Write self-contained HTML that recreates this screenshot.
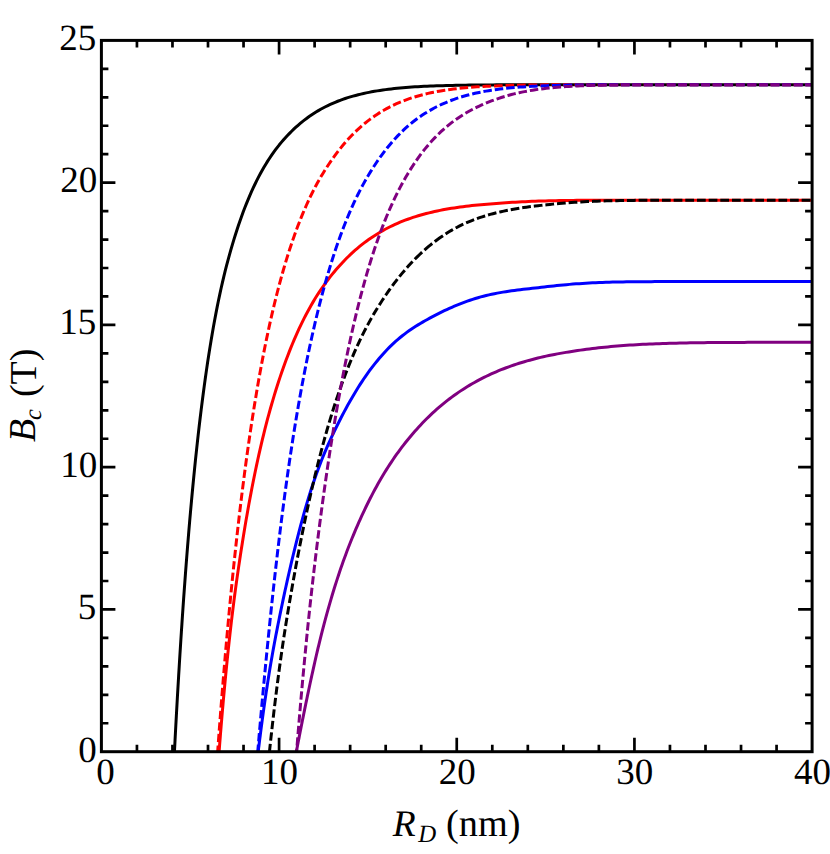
<!DOCTYPE html>
<html><head><meta charset="utf-8"><title>Bc vs RD</title>
<style>html,body{margin:0;padding:0;background:#fff}body{width:830px;height:854px;overflow:hidden;font-family:"Liberation Serif",serif}svg{display:block}text{text-rendering:geometricPrecision}</style></head>
<body>
<svg width="830" height="854" viewBox="0 0 830 854">
<rect width="830" height="854" fill="#fff"/>
<defs><clipPath id="c"><rect x="101.40" y="40.40" width="710.70" height="711.30"/></clipPath></defs>
<g clip-path="url(#c)" fill="none" stroke-width="3.00" stroke-linejoin="round">
<path d="M174.44 751.70 L174.45 751.52 L174.48 750.96 L174.53 750.04 L174.59 748.75 L174.68 747.10 L174.79 745.09 L174.91 742.72 L175.05 740.00 L175.21 736.93 L175.39 733.52 L175.59 729.78 L175.81 725.72 L176.05 721.33 L176.31 716.63 L176.58 711.64 L176.88 706.35 L177.19 700.77 L177.52 694.93 L177.88 688.82 L178.25 682.47 L178.64 675.87 L179.05 669.05 L179.47 662.02 L179.92 654.77 L180.39 647.34 L180.87 639.73 L181.38 631.96 L181.90 624.03 L182.44 615.96 L183.00 607.76 L183.58 599.44 L184.18 591.03 L184.80 582.52 L185.44 573.93 L186.09 565.27 L186.77 556.57 L187.46 547.81 L188.18 539.03 L188.91 530.22 L189.66 521.41 L190.43 512.59 L191.22 503.79 L192.03 495.01 L192.86 486.25 L193.70 477.53 L194.57 468.84 L195.45 460.21 L196.36 451.63 L197.28 443.11 L198.22 434.66 L199.18 426.29 L200.16 418.01 L201.16 409.81 L202.18 401.71 L203.22 393.72 L204.27 385.83 L205.35 378.05 L206.44 370.38 L207.55 362.84 L208.68 355.42 L209.84 348.12 L211.01 340.96 L212.19 333.92 L213.40 327.02 L214.63 320.26 L215.88 313.63 L217.14 307.14 L218.42 300.79 L219.73 294.58 L221.05 288.51 L222.39 282.59 L223.75 276.80 L225.13 271.15 L226.53 265.65 L227.95 260.28 L229.38 255.02 L230.84 249.86 L232.31 244.80 L233.80 239.83 L235.32 234.96 L236.85 230.19 L238.40 225.51 L239.97 220.94 L241.56 216.47 L243.16 212.09 L244.79 207.82 L246.44 203.64 L248.10 199.57 L249.78 195.59 L251.49 191.72 L253.21 187.94 L254.95 184.26 L256.71 180.67 L258.49 177.18 L260.29 173.79 L262.10 170.49 L263.94 167.28 L265.79 164.17 L267.67 161.14 L269.56 158.21 L271.47 155.36 L273.40 152.60 L275.35 149.93 L277.32 147.33 L279.31 144.82 L281.32 142.40 L283.34 140.04 L285.39 137.74 L287.45 135.51 L289.53 133.34 L291.64 131.23 L293.76 129.18 L295.90 127.20 L298.06 125.28 L300.23 123.42 L302.43 121.61 L304.65 119.87 L306.88 118.19 L309.14 116.56 L311.41 115.00 L313.70 113.49 L316.01 112.03 L318.34 110.63 L320.69 109.28 L323.06 107.99 L325.45 106.74 L327.86 105.55 L330.28 104.41 L332.73 103.31 L335.19 102.26 L337.67 101.26 L340.17 100.30 L342.69 99.39 L345.23 98.52 L347.79 97.69 L350.37 96.90 L352.97 96.14 L355.58 95.43 L358.22 94.75 L360.87 94.10 L363.54 93.49 L366.24 92.90 L368.95 92.35 L371.68 91.83 L374.43 91.34 L377.19 90.87 L379.98 90.43 L382.79 90.02 L385.61 89.63 L388.45 89.27 L391.32 88.92 L394.20 88.60 L397.10 88.30 L400.02 88.02 L402.96 87.75 L405.92 87.51 L408.90 87.28 L411.89 87.07 L414.91 86.87 L417.94 86.69 L420.99 86.51 L424.07 86.36 L427.16 86.21 L430.27 86.08 L433.40 85.95 L436.55 85.84 L439.71 85.73 L442.90 85.63 L446.10 85.55 L449.33 85.46 L452.57 85.39 L455.84 85.32 L459.12 85.26 L462.42 85.20 L465.74 85.15 L469.08 85.11 L472.43 85.06 L475.81 85.03 L479.21 84.99 L482.62 84.96 L486.05 84.93 L489.51 84.91 L492.98 84.88 L496.47 84.86 L499.98 84.85 L503.51 84.83 L507.06 84.81 L510.62 84.80 L514.21 84.79 L517.81 84.78 L521.44 84.77 L525.08 84.76 L528.74 84.75 L532.42 84.75 L536.12 84.74 L539.84 84.74 L543.58 84.73 L547.34 84.73 L551.11 84.72 L554.91 84.72 L558.72 84.72 L562.56 84.72 L566.41 84.71 L570.28 84.71 L574.17 84.71 L578.08 84.71 L582.01 84.71 L585.95 84.71 L589.92 84.71 L593.91 84.70 L597.91 84.70 L601.93 84.70 L605.98 84.70 L610.04 84.70 L614.12 84.70 L618.22 84.70 L622.34 84.70 L626.47 84.70 L630.63 84.70 L634.81 84.70 L639.00 84.70 L643.21 84.70 L647.45 84.70 L651.70 84.70 L655.97 84.70 L660.26 84.70 L664.57 84.70 L668.90 84.70 L673.24 84.70 L677.61 84.70 L681.99 84.70 L686.40 84.70 L690.82 84.70 L695.26 84.70 L699.72 84.70 L704.20 84.70 L708.70 84.70 L713.22 84.70 L717.76 84.70 L722.31 84.70 L726.89 84.70 L731.48 84.70 L736.10 84.70 L740.73 84.70 L745.38 84.70 L750.05 84.70 L754.74 84.70 L759.45 84.70 L764.17 84.70 L768.92 84.70 L773.69 84.70 L778.47 84.70 L783.27 84.70 L788.10 84.70 L792.94 84.70 L797.80 84.70 L802.68 84.70 L807.58 84.70 L812.49 84.70 L817.43 84.70" stroke="#000000"/>
<path d="M219.10 751.70 L219.11 751.58 L219.13 751.24 L219.18 750.67 L219.24 749.86 L219.32 748.83 L219.42 747.58 L219.53 746.10 L219.66 744.40 L219.82 742.49 L219.98 740.36 L220.17 738.03 L220.37 735.49 L220.59 732.75 L220.83 729.81 L221.09 726.68 L221.36 723.37 L221.66 719.88 L221.97 716.22 L222.29 712.39 L222.64 708.40 L223.00 704.26 L223.38 699.97 L223.78 695.55 L224.20 690.99 L224.63 686.31 L225.08 681.51 L225.55 676.60 L226.04 671.59 L226.54 666.48 L227.06 661.29 L227.60 656.03 L228.16 650.69 L228.74 645.28 L229.33 639.82 L229.94 634.32 L230.57 628.77 L231.22 623.19 L231.88 617.58 L232.56 611.95 L233.26 606.31 L233.98 600.66 L234.71 595.02 L235.46 589.38 L236.23 583.76 L237.02 578.15 L237.83 572.53 L238.65 566.89 L239.49 561.23 L240.35 555.54 L241.23 549.85 L242.12 544.15 L243.03 538.44 L243.96 532.74 L244.91 527.03 L245.87 521.34 L246.86 515.65 L247.86 509.99 L248.87 504.34 L249.91 498.71 L250.96 493.11 L252.03 487.54 L253.12 482.00 L254.23 476.49 L255.35 471.02 L256.49 465.60 L257.65 460.21 L258.83 454.88 L260.03 449.59 L261.24 444.35 L262.47 439.16 L263.72 434.03 L264.98 428.96 L266.27 423.94 L267.57 418.99 L268.89 414.09 L270.22 409.26 L271.58 404.50 L272.95 399.80 L274.34 395.15 L275.75 390.56 L277.17 386.03 L278.61 381.55 L280.07 377.13 L281.55 372.77 L283.05 368.47 L284.56 364.23 L286.09 360.05 L287.64 355.93 L289.21 351.88 L290.79 347.90 L292.39 343.98 L294.01 340.12 L295.65 336.33 L297.31 332.61 L298.98 328.95 L300.67 325.36 L302.38 321.84 L304.10 318.39 L305.85 315.00 L307.61 311.68 L309.39 308.42 L311.18 305.24 L313.00 302.12 L314.83 299.06 L316.68 296.07 L318.55 293.15 L320.43 290.30 L322.34 287.50 L324.26 284.78 L326.20 282.11 L328.15 279.50 L330.13 276.94 L332.12 274.43 L334.13 271.98 L336.15 269.57 L338.20 267.21 L340.26 264.91 L342.34 262.66 L344.44 260.46 L346.55 258.31 L348.69 256.21 L350.84 254.16 L353.01 252.16 L355.19 250.21 L357.40 248.32 L359.62 246.47 L361.86 244.67 L364.11 242.92 L366.39 241.22 L368.68 239.57 L370.99 237.97 L373.32 236.41 L375.66 234.90 L378.03 233.44 L380.41 232.02 L382.81 230.64 L385.22 229.31 L387.66 228.03 L390.11 226.78 L392.58 225.58 L395.07 224.42 L397.57 223.30 L400.09 222.22 L402.63 221.18 L405.19 220.18 L407.77 219.23 L410.36 218.31 L412.97 217.42 L415.60 216.57 L418.25 215.76 L420.91 214.98 L423.59 214.24 L426.29 213.52 L429.01 212.84 L431.75 212.18 L434.50 211.56 L437.27 210.96 L440.06 210.39 L442.86 209.84 L445.69 209.32 L448.53 208.82 L451.39 208.35 L454.26 207.90 L457.16 207.47 L460.07 207.06 L463.00 206.67 L465.95 206.30 L468.91 205.94 L471.89 205.61 L474.89 205.29 L477.91 204.99 L480.95 204.70 L484.00 204.43 L487.07 204.17 L490.16 203.92 L493.27 203.67 L496.39 203.43 L499.54 203.20 L502.70 202.97 L505.87 202.76 L509.07 202.55 L512.28 202.35 L515.51 202.16 L518.76 201.98 L522.03 201.81 L525.31 201.65 L528.61 201.50 L531.93 201.37 L535.27 201.24 L538.62 201.12 L541.99 201.01 L545.38 200.92 L548.79 200.83 L552.22 200.74 L555.66 200.67 L559.12 200.60 L562.60 200.55 L566.10 200.49 L569.61 200.45 L573.14 200.40 L576.69 200.37 L580.26 200.34 L583.84 200.31 L587.44 200.29 L591.06 200.26 L594.70 200.25 L598.36 200.23 L602.03 200.22 L605.72 200.21 L609.43 200.20 L613.16 200.19 L616.90 200.19 L620.66 200.18 L624.44 200.18 L628.24 200.17 L632.05 200.17 L635.89 200.17 L639.74 200.17 L643.60 200.16 L647.49 200.16 L651.39 200.16 L655.31 200.16 L659.25 200.16 L663.21 200.16 L667.18 200.16 L671.18 200.16 L675.18 200.16 L679.21 200.16 L683.26 200.16 L687.32 200.16 L691.40 200.16 L695.50 200.16 L699.61 200.16 L703.75 200.16 L707.90 200.16 L712.07 200.16 L716.25 200.16 L720.46 200.16 L724.68 200.16 L728.92 200.16 L733.18 200.16 L737.45 200.16 L741.74 200.16 L746.06 200.16 L750.38 200.16 L754.73 200.16 L759.09 200.16 L763.47 200.16 L767.87 200.16 L772.29 200.16 L776.72 200.16 L781.18 200.16 L785.65 200.16 L790.13 200.16 L794.64 200.16 L799.16 200.16 L803.70 200.16 L808.26 200.16 L812.84 200.16 L817.43 200.16" stroke="#ff0000"/>
<path d="M258.20 751.70 L258.20 751.63 L258.23 751.43 L258.27 751.09 L258.33 750.61 L258.40 750.00 L258.49 749.25 L258.60 748.37 L258.73 747.36 L258.87 746.22 L259.02 744.95 L259.20 743.55 L259.39 742.03 L259.59 740.38 L259.82 738.61 L260.06 736.72 L260.31 734.72 L260.59 732.60 L260.88 730.37 L261.18 728.03 L261.51 725.59 L261.84 723.04 L262.20 720.39 L262.57 717.65 L262.96 714.81 L263.37 711.88 L263.79 708.87 L264.23 705.78 L264.68 702.60 L265.15 699.35 L265.64 696.03 L266.15 692.65 L266.67 689.19 L267.21 685.68 L267.76 682.12 L268.33 678.50 L268.92 674.83 L269.52 671.11 L270.14 667.36 L270.78 663.57 L271.43 659.74 L272.10 655.89 L272.79 652.01 L273.49 648.11 L274.21 644.19 L274.95 640.26 L275.70 636.31 L276.47 632.35 L277.26 628.34 L278.06 624.29 L278.88 620.20 L279.71 616.07 L280.57 611.89 L281.43 607.69 L282.32 603.45 L283.22 599.18 L284.14 594.88 L285.07 590.55 L286.03 586.20 L286.99 581.83 L287.98 577.43 L288.98 573.02 L290.00 568.60 L291.03 564.16 L292.08 559.71 L293.15 555.25 L294.23 550.78 L295.33 546.31 L296.45 541.84 L297.58 537.37 L298.73 532.90 L299.90 528.43 L301.08 523.98 L302.28 519.53 L303.50 515.09 L304.73 510.71 L305.98 506.37 L307.25 502.09 L308.53 497.85 L309.83 493.67 L311.14 489.54 L312.47 485.47 L313.82 481.45 L315.19 477.49 L316.57 473.58 L317.97 469.74 L319.38 465.95 L320.81 462.21 L322.26 458.54 L323.72 454.93 L325.21 451.37 L326.70 447.88 L328.22 444.44 L329.75 441.07 L331.29 437.71 L332.86 434.38 L334.44 431.06 L336.03 427.77 L337.65 424.49 L339.28 421.24 L340.92 418.00 L342.59 414.80 L344.27 411.62 L345.96 408.46 L347.67 405.34 L349.40 402.24 L351.15 399.18 L352.91 396.15 L354.69 393.15 L356.48 390.18 L358.30 387.26 L360.12 384.39 L361.97 381.56 L363.83 378.78 L365.71 376.05 L367.60 373.37 L369.51 370.74 L371.44 368.15 L373.39 365.61 L375.35 363.13 L377.32 360.69 L379.32 358.29 L381.33 355.95 L383.35 353.66 L385.40 351.43 L387.46 349.26 L389.53 347.16 L391.63 345.11 L393.74 343.13 L395.86 341.20 L398.00 339.34 L400.16 337.52 L402.34 335.76 L404.53 334.06 L406.74 332.41 L408.97 330.80 L411.21 329.25 L413.47 327.75 L415.74 326.29 L418.03 324.87 L420.34 323.49 L422.67 322.13 L425.01 320.78 L427.36 319.45 L429.74 318.13 L432.13 316.84 L434.54 315.57 L436.96 314.31 L439.40 313.08 L441.86 311.88 L444.33 310.69 L446.82 309.53 L449.33 308.40 L451.85 307.29 L454.39 306.20 L456.95 305.14 L459.52 304.11 L462.11 303.10 L464.72 302.12 L467.34 301.17 L469.98 300.25 L472.63 299.35 L475.30 298.50 L477.99 297.69 L480.70 296.93 L483.42 296.21 L486.16 295.53 L488.91 294.88 L491.68 294.27 L494.47 293.69 L497.28 293.14 L500.10 292.62 L502.94 292.12 L505.79 291.66 L508.66 291.22 L511.55 290.80 L514.45 290.40 L517.37 290.02 L520.31 289.67 L523.26 289.33 L526.23 289.01 L529.22 288.67 L532.22 288.33 L535.24 287.99 L538.28 287.64 L541.33 287.29 L544.40 286.94 L547.48 286.59 L550.59 286.24 L553.71 285.91 L556.84 285.58 L559.99 285.26 L563.16 284.96 L566.35 284.66 L569.55 284.38 L572.77 284.12 L576.00 283.87 L579.25 283.63 L582.52 283.41 L585.80 283.21 L589.10 283.02 L592.42 282.85 L595.76 282.70 L599.11 282.55 L602.47 282.42 L605.86 282.31 L609.26 282.21 L612.67 282.11 L616.11 282.03 L619.56 281.96 L623.02 281.90 L626.50 281.85 L630.00 281.80 L633.52 281.76 L637.05 281.72 L640.60 281.70 L644.17 281.67 L647.75 281.65 L651.35 281.63 L654.96 281.62 L658.59 281.61 L662.24 281.60 L665.91 281.59 L669.59 281.58 L673.29 281.58 L677.00 281.57 L680.73 281.57 L684.48 281.57 L688.24 281.57 L692.02 281.57 L695.82 281.56 L699.64 281.56 L703.47 281.56 L707.31 281.56 L711.18 281.56 L715.06 281.56 L718.95 281.56 L722.87 281.56 L726.79 281.56 L730.74 281.56 L734.70 281.56 L738.68 281.56 L742.68 281.56 L746.69 281.56 L750.72 281.56 L754.76 281.56 L758.83 281.56 L762.90 281.56 L767.00 281.56 L771.11 281.56 L775.24 281.56 L779.38 281.56 L783.55 281.56 L787.72 281.56 L791.92 281.56 L796.13 281.56 L800.36 281.56 L804.60 281.56 L808.86 281.56 L813.14 281.56 L817.43 281.56" stroke="#0000ff"/>
<path d="M296.37 751.70 L296.38 751.66 L296.40 751.54 L296.44 751.33 L296.49 751.05 L296.56 750.68 L296.65 750.23 L296.75 749.70 L296.86 749.09 L296.99 748.40 L297.14 747.63 L297.30 746.78 L297.48 745.85 L297.67 744.84 L297.88 743.75 L298.10 742.58 L298.34 741.33 L298.60 740.01 L298.87 738.61 L299.15 737.14 L299.45 735.58 L299.77 733.96 L300.10 732.26 L300.45 730.49 L300.81 728.64 L301.19 726.72 L301.58 724.73 L301.99 722.67 L302.41 720.54 L302.85 718.35 L303.31 716.08 L303.78 713.75 L304.26 711.35 L304.76 708.89 L305.28 706.37 L305.81 703.78 L306.36 701.14 L306.92 698.43 L307.50 695.66 L308.09 692.84 L308.70 689.96 L309.33 687.02 L309.97 684.04 L310.62 681.00 L311.29 677.90 L311.98 674.76 L312.68 671.57 L313.40 668.34 L314.13 665.06 L314.88 661.74 L315.64 658.39 L316.42 655.02 L317.21 651.63 L318.02 648.22 L318.85 644.79 L319.69 641.34 L320.54 637.88 L321.41 634.40 L322.30 630.91 L323.20 627.41 L324.12 623.91 L325.05 620.40 L326.00 616.88 L326.96 613.36 L327.94 609.84 L328.94 606.32 L329.95 602.81 L330.97 599.30 L332.01 595.79 L333.07 592.29 L334.14 588.80 L335.23 585.32 L336.33 581.85 L337.45 578.39 L338.58 574.94 L339.73 571.52 L340.89 568.10 L342.07 564.71 L343.26 561.33 L344.47 557.98 L345.70 554.65 L346.94 551.33 L348.20 548.04 L349.47 544.78 L350.76 541.54 L352.06 538.31 L353.38 535.09 L354.71 531.89 L356.06 528.71 L357.42 525.55 L358.80 522.40 L360.20 519.28 L361.61 516.17 L363.04 513.09 L364.48 510.03 L365.93 506.99 L367.41 503.98 L368.89 500.99 L370.40 498.02 L371.92 495.09 L373.45 492.17 L375.00 489.29 L376.56 486.43 L378.14 483.60 L379.74 480.80 L381.35 478.03 L382.98 475.29 L384.62 472.58 L386.28 469.90 L387.95 467.25 L389.64 464.63 L391.34 462.05 L393.06 459.49 L394.79 456.97 L396.54 454.48 L398.31 452.02 L400.09 449.60 L401.88 447.21 L403.70 444.85 L405.52 442.52 L407.36 440.22 L409.22 437.95 L411.10 435.70 L412.98 433.48 L414.89 431.30 L416.81 429.14 L418.74 427.01 L420.69 424.91 L422.66 422.84 L424.64 420.80 L426.63 418.79 L428.65 416.81 L430.67 414.86 L432.72 412.95 L434.77 411.06 L436.85 409.21 L438.94 407.38 L441.04 405.59 L443.16 403.83 L445.30 402.10 L447.45 400.40 L449.61 398.74 L451.79 397.10 L453.99 395.50 L456.20 393.93 L458.43 392.38 L460.67 390.87 L462.93 389.39 L465.21 387.95 L467.49 386.53 L469.80 385.14 L472.12 383.78 L474.46 382.46 L476.81 381.16 L479.17 379.89 L481.55 378.65 L483.95 377.44 L486.36 376.25 L488.79 375.09 L491.24 373.97 L493.69 372.86 L496.17 371.79 L498.66 370.74 L501.16 369.72 L503.68 368.73 L506.22 367.76 L508.77 366.82 L511.34 365.90 L513.92 365.01 L516.52 364.15 L519.13 363.30 L521.76 362.49 L524.40 361.69 L527.06 360.92 L529.74 360.18 L532.43 359.45 L535.13 358.75 L537.85 358.07 L540.59 357.41 L543.34 356.78 L546.11 356.16 L548.89 355.56 L551.69 354.99 L554.50 354.43 L557.33 353.90 L560.18 353.38 L563.04 352.88 L565.91 352.39 L568.80 351.92 L571.71 351.46 L574.63 351.01 L577.56 350.57 L580.52 350.14 L583.48 349.73 L586.47 349.33 L589.47 348.94 L592.48 348.57 L595.51 348.21 L598.55 347.86 L601.61 347.53 L604.69 347.21 L607.78 346.90 L610.89 346.61 L614.01 346.33 L617.15 346.06 L620.30 345.81 L623.47 345.57 L626.65 345.34 L629.85 345.12 L633.06 344.91 L636.29 344.72 L639.54 344.54 L642.80 344.36 L646.07 344.20 L649.36 344.05 L652.67 343.90 L655.99 343.77 L659.33 343.64 L662.68 343.53 L666.05 343.42 L669.44 343.32 L672.84 343.23 L676.25 343.14 L679.68 343.06 L683.13 342.99 L686.59 342.92 L690.06 342.86 L693.55 342.80 L697.06 342.75 L700.58 342.70 L704.12 342.66 L707.68 342.62 L711.24 342.58 L714.83 342.55 L718.43 342.52 L722.04 342.50 L725.67 342.47 L729.32 342.45 L732.98 342.43 L736.66 342.42 L740.35 342.40 L744.06 342.39 L747.78 342.37 L751.52 342.36 L755.27 342.35 L759.04 342.34 L762.83 342.34 L766.63 342.33 L770.44 342.32 L774.27 342.32 L778.12 342.31 L781.98 342.31 L785.86 342.30 L789.75 342.30 L793.66 342.30 L797.58 342.30 L801.52 342.29 L805.48 342.29 L809.44 342.29 L813.43 342.29 L817.43 342.29" stroke="#800080"/>
<path d="M269.47 751.70 L269.47 751.62 L269.50 751.39 L269.54 751.01 L269.60 750.47 L269.67 749.78 L269.76 748.94 L269.86 747.95 L269.98 746.81 L270.12 745.52 L270.28 744.08 L270.45 742.50 L270.63 740.78 L270.84 738.92 L271.05 736.92 L271.29 734.78 L271.54 732.52 L271.81 730.12 L272.09 727.59 L272.39 724.94 L272.71 722.16 L273.04 719.27 L273.39 716.27 L273.75 713.15 L274.13 709.92 L274.53 706.59 L274.95 703.16 L275.37 699.64 L275.82 696.02 L276.28 692.31 L276.76 688.52 L277.26 684.64 L277.77 680.69 L278.29 676.67 L278.84 672.58 L279.40 668.42 L279.97 664.21 L280.56 659.94 L281.17 655.61 L281.79 651.24 L282.44 646.83 L283.09 642.38 L283.76 637.89 L284.45 633.37 L285.16 628.82 L285.88 624.25 L286.62 619.66 L287.37 615.06 L288.14 610.42 L288.93 605.73 L289.73 600.99 L290.55 596.21 L291.38 591.39 L292.24 586.54 L293.10 581.65 L293.99 576.73 L294.89 571.77 L295.80 566.80 L296.73 561.79 L297.68 556.77 L298.65 551.72 L299.63 546.66 L300.62 541.59 L301.64 536.50 L302.67 531.41 L303.71 526.31 L304.78 521.20 L305.85 516.09 L306.95 510.99 L308.06 505.88 L309.18 500.78 L310.33 495.69 L311.49 490.61 L312.66 485.55 L313.85 480.49 L315.06 475.46 L316.29 470.44 L317.53 465.44 L318.78 460.46 L320.05 455.51 L321.34 450.59 L322.65 445.70 L323.97 440.83 L325.31 436.01 L326.66 431.23 L328.03 426.50 L329.42 421.81 L330.82 417.16 L332.24 412.56 L333.67 408.01 L335.12 403.51 L336.59 399.06 L338.07 394.67 L339.57 390.32 L341.09 386.03 L342.62 381.79 L344.17 377.61 L345.73 373.48 L347.32 369.42 L348.91 365.40 L350.53 361.45 L352.15 357.55 L353.80 353.71 L355.46 349.93 L357.14 346.22 L358.83 342.56 L360.54 338.95 L362.27 335.41 L364.01 331.93 L365.77 328.51 L367.55 325.15 L369.34 321.85 L371.15 318.62 L372.97 315.44 L374.81 312.32 L376.67 309.26 L378.54 306.24 L380.43 303.25 L382.33 300.31 L384.25 297.40 L386.19 294.53 L388.15 291.71 L390.11 288.92 L392.10 286.18 L394.10 283.48 L396.12 280.83 L398.16 278.22 L400.21 275.65 L402.27 273.14 L404.36 270.67 L406.46 268.24 L408.57 265.87 L410.70 263.54 L412.85 261.26 L415.02 259.03 L417.20 256.86 L419.39 254.73 L421.61 252.65 L423.84 250.62 L426.08 248.64 L428.34 246.71 L430.62 244.83 L432.91 243.00 L435.22 241.22 L437.55 239.49 L439.89 237.80 L442.25 236.17 L444.63 234.59 L447.02 233.05 L449.43 231.57 L451.85 230.14 L454.29 228.77 L456.75 227.45 L459.22 226.18 L461.71 224.96 L464.21 223.79 L466.73 222.67 L469.27 221.59 L471.82 220.55 L474.39 219.56 L476.98 218.61 L479.58 217.70 L482.20 216.83 L484.83 216.00 L487.48 215.20 L490.15 214.43 L492.83 213.70 L495.53 213.01 L498.25 212.34 L500.98 211.70 L503.73 211.10 L506.49 210.52 L509.27 209.97 L512.07 209.44 L514.88 208.94 L517.71 208.46 L520.56 208.00 L523.42 207.57 L526.30 207.16 L529.19 206.77 L532.10 206.40 L535.03 206.04 L537.97 205.70 L540.93 205.37 L543.90 205.04 L546.89 204.73 L549.90 204.42 L552.92 204.12 L555.96 203.83 L559.02 203.55 L562.09 203.28 L565.18 203.03 L568.28 202.78 L571.41 202.55 L574.54 202.34 L577.70 202.14 L580.87 201.95 L584.05 201.77 L587.25 201.61 L590.47 201.45 L593.70 201.31 L596.96 201.19 L600.22 201.07 L603.51 200.96 L606.80 200.86 L610.12 200.78 L613.45 200.70 L616.80 200.63 L620.16 200.57 L623.54 200.51 L626.94 200.46 L630.35 200.42 L633.78 200.38 L637.23 200.35 L640.69 200.32 L644.16 200.29 L647.66 200.27 L651.17 200.25 L654.69 200.24 L658.24 200.22 L661.80 200.21 L665.37 200.20 L668.96 200.19 L672.57 200.19 L676.19 200.18 L679.83 200.18 L683.49 200.17 L687.16 200.17 L690.85 200.17 L694.55 200.17 L698.27 200.16 L702.01 200.16 L705.76 200.16 L709.53 200.16 L713.32 200.16 L717.12 200.16 L720.94 200.16 L724.77 200.16 L728.62 200.16 L732.49 200.16 L736.37 200.16 L740.27 200.16 L744.18 200.16 L748.12 200.16 L752.06 200.16 L756.03 200.16 L760.01 200.16 L764.00 200.16 L768.02 200.16 L772.04 200.16 L776.09 200.16 L780.15 200.16 L784.23 200.16 L788.32 200.16 L792.43 200.16 L796.56 200.16 L800.70 200.16 L804.86 200.16 L809.03 200.16 L813.22 200.16 L817.43 200.16" stroke="#000000" stroke-dasharray="7.84 3.30 8.27 3.30 8.27 3.30 8.27 3.30 8.27 3.30 8.27 3.30 8.27 3.30 8.27 3.30 8.27 3.30 8.27 3.30 8.27 3.30 8.28 3.29 8.28 3.29 8.28 3.29 8.25 3.29 8.25 3.29 8.26 3.29 8.26 3.29 8.26 3.29 8.26 3.29 8.26 3.29 8.26 3.29 8.26 3.29 8.26 3.29 8.26 3.29 8.26 3.29 8.26 3.29 8.26 3.28 8.36 3.28 8.36 3.28 8.37 3.28 8.37 3.28 8.37 3.27 8.37 3.27 8.38 3.27 8.38 3.26 8.39 3.26 8.39 3.25 8.40 3.25 8.40 3.24 8.41 3.23 8.42 3.22 8.43 3.21 8.44 3.20 8.45 3.18 10.15 3.17 10.17 3.14 10.19 3.12 8.57 3.09 8.60 3.06 8.62 3.04 8.65 3.01 8.67 2.99 8.69 2.97 8.71 2.96 8.72 2.95 8.73 2.94 8.73 2.94 8.74 2.93 8.75 2.92 8.75 2.92 8.76 2.91 8.76 2.91 8.77 2.91 8.77 2.90 8.77 2.90 8.77 2.90 8.77 2.90 8.77 2.90 8.77 2.90 8.77 2.90 8.77 2.90 8.77 2.90 8.77 2.90 8.77 2.90 8.68 2.90 8.68 2.90 8.68 2.90 8.68 2.90 8.68 2.90 8.68 2.90 50.00 0.00"/>
<path d="M217.66 751.70 L217.67 751.58 L217.70 751.21 L217.74 750.60 L217.81 749.75 L217.89 748.65 L217.98 747.32 L218.10 745.74 L218.23 743.93 L218.38 741.88 L218.55 739.60 L218.74 737.09 L218.94 734.35 L219.16 731.39 L219.40 728.21 L219.66 724.81 L219.94 721.20 L220.23 717.38 L220.54 713.36 L220.87 709.14 L221.21 704.72 L221.58 700.12 L221.96 695.33 L222.36 690.36 L222.77 685.22 L223.21 679.91 L223.66 674.44 L224.13 668.81 L224.62 663.04 L225.13 657.12 L225.65 651.06 L226.19 644.87 L226.75 638.56 L227.33 632.13 L227.92 625.59 L228.53 618.94 L229.16 612.19 L229.81 605.36 L230.48 598.43 L231.16 591.43 L231.86 584.36 L232.58 577.22 L233.31 570.02 L234.07 562.77 L234.84 555.47 L235.63 548.13 L236.44 540.76 L237.26 533.35 L238.11 525.92 L238.97 518.47 L239.84 511.00 L240.74 503.53 L241.65 496.05 L242.59 488.58 L243.54 481.11 L244.50 473.65 L245.49 466.22 L246.49 458.81 L247.51 451.42 L248.55 444.07 L249.60 436.75 L250.68 429.48 L251.77 422.25 L252.88 415.08 L254.00 407.95 L255.15 400.88 L256.31 393.88 L257.49 386.94 L258.69 380.06 L259.90 373.26 L261.14 366.53 L262.39 359.88 L263.66 353.30 L264.94 346.81 L266.25 340.40 L267.57 334.07 L268.91 327.84 L270.27 321.69 L271.64 315.63 L273.04 309.66 L274.45 303.77 L275.87 297.97 L277.32 292.25 L278.78 286.62 L280.27 281.08 L281.77 275.64 L283.28 270.28 L284.82 265.02 L286.37 259.85 L287.94 254.78 L289.53 249.80 L291.14 244.91 L292.76 240.12 L294.40 235.43 L296.06 230.83 L297.74 226.33 L299.43 221.92 L301.14 217.61 L302.87 213.40 L304.62 209.28 L306.39 205.25 L308.17 201.32 L309.97 197.48 L311.79 193.73 L313.63 190.08 L315.48 186.52 L317.35 183.04 L319.24 179.66 L321.15 176.37 L323.08 173.16 L325.02 170.03 L326.98 166.98 L328.96 163.98 L330.95 161.05 L332.97 158.18 L335.00 155.38 L337.05 152.64 L339.12 149.96 L341.20 147.36 L343.30 144.81 L345.42 142.33 L347.56 139.92 L349.72 137.57 L351.89 135.29 L354.08 133.08 L356.29 130.93 L358.52 128.84 L360.76 126.82 L363.03 124.86 L365.31 122.96 L367.61 121.13 L369.92 119.36 L372.25 117.65 L374.61 116.00 L376.97 114.41 L379.36 112.88 L381.77 111.41 L384.19 110.00 L386.63 108.64 L389.09 107.33 L391.56 106.08 L394.05 104.88 L396.56 103.74 L399.09 102.64 L401.64 101.58 L404.20 100.57 L406.79 99.61 L409.38 98.69 L412.00 97.82 L414.64 96.98 L417.29 96.19 L419.96 95.44 L422.65 94.72 L425.36 94.04 L428.08 93.40 L430.82 92.80 L433.58 92.22 L436.36 91.68 L439.15 91.17 L441.96 90.69 L444.79 90.24 L447.64 89.82 L450.51 89.42 L453.39 89.05 L456.29 88.70 L459.21 88.38 L462.15 88.08 L465.10 87.80 L468.08 87.54 L471.07 87.29 L474.07 87.07 L477.10 86.86 L480.14 86.67 L483.20 86.49 L486.28 86.32 L489.38 86.17 L492.49 86.03 L495.62 85.89 L498.77 85.77 L501.94 85.66 L505.13 85.55 L508.33 85.46 L511.55 85.37 L514.79 85.29 L518.04 85.22 L521.32 85.16 L524.61 85.10 L527.92 85.05 L531.25 85.00 L534.59 84.96 L537.95 84.93 L541.33 84.89 L544.73 84.87 L548.15 84.84 L551.58 84.82 L555.03 84.80 L558.50 84.79 L561.99 84.77 L565.49 84.76 L569.02 84.75 L572.56 84.74 L576.11 84.73 L579.69 84.73 L583.28 84.72 L586.89 84.72 L590.52 84.72 L594.17 84.71 L597.83 84.71 L601.51 84.71 L605.21 84.71 L608.93 84.70 L612.67 84.70 L616.42 84.70 L620.19 84.70 L623.98 84.70 L627.79 84.70 L631.61 84.70 L635.45 84.70 L639.31 84.70 L643.19 84.70 L647.08 84.70 L651.00 84.70 L654.93 84.70 L658.87 84.70 L662.84 84.70 L666.82 84.70 L670.82 84.70 L674.84 84.70 L678.88 84.70 L682.94 84.70 L687.01 84.70 L691.10 84.70 L695.21 84.70 L699.33 84.70 L703.47 84.70 L707.64 84.70 L711.81 84.70 L716.01 84.70 L720.23 84.70 L724.46 84.70 L728.71 84.70 L732.97 84.70 L737.26 84.70 L741.56 84.70 L745.88 84.70 L750.22 84.70 L754.58 84.70 L758.95 84.70 L763.34 84.70 L767.75 84.70 L772.18 84.70 L776.63 84.70 L781.09 84.70 L785.57 84.70 L790.07 84.70 L794.58 84.70 L799.12 84.70 L803.67 84.70 L808.24 84.70 L812.83 84.70 L817.43 84.70" stroke="#ff0000" stroke-dasharray="6.20 3.30 8.27 3.30 8.27 3.30 8.27 3.30 8.27 3.30 8.27 3.30 8.27 3.30 8.27 3.30 8.27 3.30 8.27 3.30 8.27 3.30 8.27 3.30 8.27 3.30 8.27 3.30 8.22 3.30 8.22 3.30 8.22 3.30 8.22 3.30 8.22 3.30 8.22 3.30 8.22 3.30 8.22 3.30 8.22 3.30 8.22 3.30 8.22 3.30 8.22 3.30 8.22 3.30 8.22 3.30 8.28 3.30 8.28 3.29 8.28 3.29 8.28 3.29 8.28 3.29 8.28 3.29 8.28 3.29 8.28 3.29 8.28 3.29 8.28 3.29 8.28 3.29 8.29 3.29 8.29 3.29 8.29 3.28 8.29 3.28 8.29 3.28 8.29 3.28 8.30 3.27 8.30 3.27 8.31 3.27 8.31 3.26 8.32 3.25 8.26 3.24 8.27 3.24 8.28 3.22 8.29 3.21 8.31 3.20 8.32 3.18 8.34 3.16 8.37 3.13 8.39 3.10 8.42 3.07 8.45 3.04 8.48 3.02 8.50 2.99 8.53 2.97 8.55 2.96 8.56 2.94 8.57 2.93 8.58 2.92 8.59 2.92 8.60 2.91 8.60 2.91 8.60 2.91 8.61 2.90 8.61 2.90 8.61 2.90 8.61 2.90 8.61 2.90 8.61 2.90 8.61 2.90 8.61 2.90 8.61 2.90 8.61 2.90 8.61 2.90 8.61 2.90 8.61 2.90 8.61 2.90 8.61 2.90 8.61 2.90 8.68 2.90 8.68 2.90 8.68 2.90 8.68 2.90 8.68 2.90 8.68 2.90 8.68 2.90 8.68 2.90 8.68 2.90 8.68 2.90 50.00 0.00"/>
<path d="M257.74 751.70 L257.75 751.60 L257.78 751.31 L257.82 750.83 L257.88 750.15 L257.95 749.28 L258.04 748.21 L258.15 746.96 L258.27 745.52 L258.41 743.88 L258.57 742.06 L258.75 740.05 L258.94 737.86 L259.14 735.48 L259.37 732.92 L259.61 730.18 L259.86 727.26 L260.14 724.17 L260.43 720.91 L260.73 717.47 L261.06 713.87 L261.39 710.10 L261.75 706.17 L262.12 702.08 L262.51 697.83 L262.92 693.43 L263.34 688.88 L263.78 684.19 L264.23 679.35 L264.71 674.37 L265.20 669.26 L265.70 664.01 L266.22 658.63 L266.76 653.14 L267.31 647.52 L267.89 641.78 L268.47 635.93 L269.08 629.98 L269.70 623.92 L270.34 617.76 L270.99 611.51 L271.66 605.17 L272.35 598.74 L273.05 592.22 L273.77 585.64 L274.51 578.97 L275.26 572.25 L276.03 565.46 L276.82 558.62 L277.62 551.75 L278.44 544.83 L279.28 537.89 L280.13 530.92 L281.00 523.94 L281.89 516.93 L282.79 509.91 L283.71 502.89 L284.64 495.86 L285.60 488.83 L286.56 481.81 L287.55 474.80 L288.55 467.80 L289.57 460.81 L290.60 453.85 L291.66 446.92 L292.72 440.01 L293.81 433.14 L294.91 426.30 L296.03 419.50 L297.16 412.74 L298.31 406.03 L299.48 399.37 L300.66 392.75 L301.86 386.20 L303.08 379.70 L304.32 373.26 L305.57 366.88 L306.83 360.56 L308.12 354.31 L309.42 348.14 L310.73 342.03 L312.06 335.99 L313.41 330.01 L314.78 324.11 L316.16 318.27 L317.56 312.50 L318.98 306.81 L320.41 301.18 L321.86 295.64 L323.32 290.17 L324.81 284.78 L326.31 279.46 L327.82 274.23 L329.35 269.08 L330.90 264.01 L332.47 259.03 L334.05 254.13 L335.64 249.31 L337.26 244.58 L338.89 239.93 L340.54 235.37 L342.20 230.89 L343.88 226.50 L345.58 222.20 L347.29 217.99 L349.02 213.86 L350.77 209.81 L352.53 205.86 L354.31 201.99 L356.11 198.20 L357.92 194.50 L359.75 190.89 L361.60 187.36 L363.46 183.91 L365.34 180.55 L367.24 177.25 L369.15 174.02 L371.08 170.85 L373.03 167.75 L374.99 164.72 L376.97 161.76 L378.96 158.87 L380.97 156.04 L383.00 153.29 L385.05 150.60 L387.11 147.98 L389.19 145.43 L391.28 142.94 L393.39 140.53 L395.52 138.18 L397.67 135.90 L399.83 133.69 L402.00 131.54 L404.20 129.46 L406.41 127.45 L408.64 125.49 L410.88 123.61 L413.14 121.78 L415.42 120.02 L417.71 118.32 L420.02 116.67 L422.35 115.09 L424.69 113.57 L427.05 112.10 L429.42 110.69 L431.82 109.33 L434.23 108.03 L436.65 106.78 L439.10 105.58 L441.55 104.43 L444.03 103.32 L446.52 102.26 L449.03 101.24 L451.56 100.26 L454.10 99.33 L456.66 98.45 L459.23 97.60 L461.82 96.79 L464.43 96.02 L467.05 95.29 L469.70 94.60 L472.35 93.94 L475.03 93.31 L477.72 92.72 L480.43 92.16 L483.15 91.64 L485.89 91.14 L488.65 90.67 L491.42 90.23 L494.21 89.82 L497.02 89.43 L499.84 89.06 L502.68 88.72 L505.54 88.40 L508.41 88.11 L511.30 87.83 L514.21 87.57 L517.13 87.33 L520.07 87.11 L523.02 86.90 L526.00 86.71 L528.98 86.53 L531.99 86.36 L535.01 86.20 L538.05 86.06 L541.11 85.92 L544.18 85.80 L547.27 85.68 L550.37 85.58 L553.49 85.48 L556.63 85.40 L559.78 85.32 L562.95 85.24 L566.14 85.18 L569.35 85.12 L572.57 85.07 L575.80 85.02 L579.06 84.98 L582.33 84.94 L585.62 84.91 L588.92 84.88 L592.24 84.86 L595.58 84.83 L598.93 84.81 L602.30 84.80 L605.68 84.78 L609.09 84.77 L612.51 84.76 L615.94 84.75 L619.40 84.74 L622.86 84.73 L626.35 84.73 L629.85 84.72 L633.37 84.72 L636.91 84.72 L640.46 84.71 L644.03 84.71 L647.61 84.71 L651.21 84.71 L654.83 84.71 L658.47 84.70 L662.12 84.70 L665.78 84.70 L669.47 84.70 L673.17 84.70 L676.89 84.70 L680.62 84.70 L684.37 84.70 L688.14 84.70 L691.92 84.70 L695.72 84.70 L699.54 84.70 L703.37 84.70 L707.22 84.70 L711.09 84.70 L714.97 84.70 L718.87 84.70 L722.79 84.70 L726.72 84.70 L730.67 84.70 L734.64 84.70 L738.62 84.70 L742.62 84.70 L746.63 84.70 L750.67 84.70 L754.71 84.70 L758.78 84.70 L762.86 84.70 L766.96 84.70 L771.07 84.70 L775.21 84.70 L779.35 84.70 L783.52 84.70 L787.70 84.70 L791.90 84.70 L796.11 84.70 L800.34 84.70 L804.59 84.70 L808.85 84.70 L813.13 84.70 L817.43 84.70" stroke="#0000ff" stroke-dasharray="7.07 3.30 8.27 3.30 8.27 3.30 8.27 3.30 8.27 3.30 8.27 3.30 8.27 3.30 8.27 3.30 8.27 3.30 8.27 3.30 8.27 3.30 8.27 3.30 8.27 3.30 8.27 3.30 8.21 3.30 8.21 3.30 8.21 3.30 8.21 3.30 8.21 3.30 8.22 3.30 8.22 3.30 8.22 3.30 8.22 3.30 8.22 3.30 8.22 3.30 8.22 3.30 8.22 3.30 8.22 3.29 8.31 3.29 8.31 3.29 8.31 3.29 8.31 3.29 8.31 3.29 8.31 3.29 8.31 3.29 8.31 3.29 8.31 3.29 8.31 3.29 8.32 3.29 8.32 3.29 8.32 3.29 8.32 3.28 8.32 3.28 8.32 3.28 8.33 3.28 8.33 3.27 8.33 3.27 8.34 3.27 8.34 3.26 8.35 3.25 8.24 3.25 8.25 3.24 8.26 3.23 8.27 3.21 8.28 3.20 8.30 3.18 8.32 3.15 8.34 3.13 8.37 3.10 8.40 3.07 8.43 3.04 8.46 3.02 8.48 2.99 8.50 2.97 8.52 2.96 8.54 2.94 8.55 2.93 8.56 2.92 8.57 2.92 8.57 2.91 8.58 2.91 8.58 2.91 8.58 2.90 8.58 2.90 8.59 2.90 8.59 2.90 8.59 2.90 8.59 2.90 8.59 2.90 8.59 2.90 8.59 2.90 8.59 2.90 8.59 2.90 8.59 2.90 8.68 2.90 8.68 2.90 8.68 2.90 8.68 2.90 8.68 2.90 8.68 2.90 8.68 2.90 8.68 2.90 8.68 2.90 8.68 2.90 50.00 0.00"/>
<path d="M296.60 751.70 L296.61 751.60 L296.63 751.31 L296.67 750.83 L296.72 750.15 L296.79 749.27 L296.88 748.21 L296.98 746.95 L297.09 745.51 L297.22 743.88 L297.37 742.06 L297.53 740.05 L297.71 737.87 L297.90 735.50 L298.11 732.96 L298.33 730.24 L298.57 727.35 L298.83 724.29 L299.10 721.07 L299.38 717.68 L299.68 714.13 L300.00 710.43 L300.33 706.58 L300.67 702.58 L301.04 698.43 L301.41 694.15 L301.81 689.72 L302.22 685.17 L302.64 680.49 L303.08 675.69 L303.53 670.77 L304.00 665.73 L304.49 660.59 L304.99 655.34 L305.51 649.99 L306.04 644.55 L306.58 639.02 L307.15 633.40 L307.72 627.70 L308.32 621.93 L308.93 616.09 L309.55 610.18 L310.19 604.21 L310.84 598.18 L311.52 592.11 L312.20 585.98 L312.90 579.82 L313.62 573.61 L314.35 567.38 L315.10 561.10 L315.86 554.78 L316.64 548.41 L317.43 542.00 L318.24 535.55 L319.07 529.07 L319.91 522.55 L320.76 516.02 L321.63 509.46 L322.52 502.88 L323.42 496.29 L324.34 489.69 L325.27 483.08 L326.22 476.47 L327.18 469.85 L328.16 463.24 L329.15 456.64 L330.16 450.05 L331.18 443.47 L332.23 436.91 L333.28 430.37 L334.35 423.85 L335.44 417.36 L336.54 410.90 L337.66 404.47 L338.79 398.08 L339.94 391.72 L341.10 385.40 L342.28 379.13 L343.47 372.90 L344.68 366.73 L345.91 360.60 L347.15 354.52 L348.40 348.50 L349.68 342.54 L350.96 336.64 L352.26 330.80 L353.58 325.02 L354.92 319.31 L356.26 313.67 L357.63 308.10 L359.01 302.60 L360.40 297.17 L361.81 291.81 L363.24 286.53 L364.68 281.32 L366.13 276.19 L367.60 271.14 L369.09 266.17 L370.59 261.27 L372.11 256.46 L373.64 251.72 L375.19 247.07 L376.76 242.50 L378.34 238.01 L379.93 233.60 L381.54 229.27 L383.17 225.03 L384.81 220.87 L386.47 216.79 L388.14 212.79 L389.82 208.88 L391.53 205.05 L393.25 201.29 L394.98 197.63 L396.73 194.04 L398.49 190.53 L400.27 187.10 L402.07 183.75 L403.88 180.48 L405.70 177.28 L407.55 174.16 L409.40 171.10 L411.27 168.11 L413.16 165.20 L415.06 162.35 L416.98 159.57 L418.92 156.87 L420.87 154.23 L422.83 151.65 L424.81 149.15 L426.81 146.71 L428.82 144.34 L430.84 142.03 L432.89 139.79 L434.94 137.62 L437.02 135.50 L439.10 133.45 L441.21 131.46 L443.33 129.53 L445.46 127.66 L447.61 125.85 L449.77 124.09 L451.95 122.40 L454.15 120.76 L456.36 119.17 L458.59 117.64 L460.83 116.16 L463.09 114.73 L465.36 113.35 L467.65 112.03 L469.95 110.75 L472.27 109.52 L474.61 108.33 L476.96 107.18 L479.32 106.06 L481.70 104.98 L484.10 103.93 L486.51 102.91 L488.94 101.92 L491.38 100.97 L493.84 100.05 L496.31 99.17 L498.80 98.32 L501.30 97.50 L503.82 96.72 L506.36 95.97 L508.91 95.25 L511.47 94.57 L514.05 93.91 L516.65 93.29 L519.26 92.70 L521.89 92.14 L524.53 91.61 L527.19 91.11 L529.86 90.63 L532.55 90.18 L535.26 89.76 L537.98 89.37 L540.71 89.00 L543.46 88.65 L546.23 88.32 L549.01 88.02 L551.81 87.73 L554.62 87.47 L557.45 87.23 L560.29 87.00 L563.15 86.79 L566.02 86.59 L568.91 86.41 L571.82 86.24 L574.74 86.08 L577.67 85.94 L580.62 85.80 L583.59 85.68 L586.57 85.57 L589.57 85.47 L592.58 85.37 L595.61 85.29 L598.65 85.22 L601.71 85.15 L604.78 85.09 L607.87 85.04 L610.98 84.99 L614.10 84.95 L617.23 84.91 L620.38 84.88 L623.55 84.85 L626.73 84.83 L629.93 84.81 L633.14 84.79 L636.37 84.77 L639.62 84.76 L642.87 84.75 L646.15 84.74 L649.44 84.73 L652.74 84.73 L656.07 84.72 L659.40 84.72 L662.75 84.71 L666.12 84.71 L669.50 84.71 L672.90 84.71 L676.31 84.71 L679.74 84.70 L683.19 84.70 L686.64 84.70 L690.12 84.70 L693.61 84.70 L697.12 84.70 L700.64 84.70 L704.17 84.70 L707.72 84.70 L711.29 84.70 L714.87 84.70 L718.47 84.70 L722.09 84.70 L725.71 84.70 L729.36 84.70 L733.02 84.70 L736.69 84.70 L740.38 84.70 L744.09 84.70 L747.81 84.70 L751.55 84.70 L755.30 84.70 L759.07 84.70 L762.85 84.70 L766.65 84.70 L770.46 84.70 L774.29 84.70 L778.14 84.70 L782.00 84.70 L785.87 84.70 L789.76 84.70 L793.67 84.70 L797.59 84.70 L801.53 84.70 L805.48 84.70 L809.45 84.70 L813.43 84.70 L817.43 84.70" stroke="#800080" stroke-dasharray="2.71 3.30 8.27 3.30 8.27 3.30 8.27 3.30 8.27 3.30 8.27 3.30 8.27 3.30 8.27 3.30 8.27 3.30 8.27 3.30 8.27 3.30 8.27 3.30 8.27 3.30 8.27 3.30 8.27 3.30 8.27 3.30 8.27 3.30 8.27 3.30 8.27 3.30 8.27 3.30 8.27 3.30 8.27 3.30 8.27 3.30 8.27 3.30 8.27 3.30 8.27 3.30 8.27 3.30 8.27 3.29 8.32 3.29 8.32 3.29 8.32 3.29 8.32 3.29 8.32 3.29 8.32 3.29 8.32 3.29 8.32 3.29 8.32 3.29 8.32 3.29 8.32 3.29 8.32 3.29 8.33 3.29 8.33 3.28 8.33 3.28 8.33 3.28 8.33 3.28 8.34 3.28 8.34 3.27 8.34 3.27 8.19 3.26 8.20 3.26 8.20 3.25 8.21 3.24 8.22 3.23 8.23 3.22 8.25 3.20 8.26 3.18 8.29 3.16 8.31 3.13 8.34 3.10 8.36 3.08 8.39 3.06 8.41 3.03 8.43 3.01 8.46 2.99 8.48 2.97 8.49 2.95 8.51 2.94 8.52 2.93 8.53 2.92 8.54 2.91 8.54 2.91 8.55 2.91 8.55 2.90 8.55 2.90 8.55 2.90 8.55 2.90 8.55 2.90 8.55 2.90 8.55 2.90 8.55 2.90 8.55 2.90 8.68 2.90 8.68 2.90 8.68 2.90 8.68 2.90 8.68 2.90 8.68 2.90 8.68 2.90 8.68 2.90 8.68 2.90 8.68 2.90 50.00 0.00"/>
</g>
<g stroke="#000" fill="none">
<rect x="101.40" y="40.40" width="710.70" height="711.30" stroke-width="3.00"/>
<path d="M136.94 751.70 v-7.00 M136.94 40.40 v7.00 M172.47 751.70 v-7.00 M172.47 40.40 v7.00 M208.01 751.70 v-7.00 M208.01 40.40 v7.00 M243.54 751.70 v-7.00 M243.54 40.40 v7.00 M279.08 751.70 v-14.00 M279.08 40.40 v14.00 M314.61 751.70 v-7.00 M314.61 40.40 v7.00 M350.15 751.70 v-7.00 M350.15 40.40 v7.00 M385.68 751.70 v-7.00 M385.68 40.40 v7.00 M421.22 751.70 v-7.00 M421.22 40.40 v7.00 M456.75 751.70 v-14.00 M456.75 40.40 v14.00 M492.29 751.70 v-7.00 M492.29 40.40 v7.00 M527.82 751.70 v-7.00 M527.82 40.40 v7.00 M563.36 751.70 v-7.00 M563.36 40.40 v7.00 M598.89 751.70 v-7.00 M598.89 40.40 v7.00 M634.43 751.70 v-14.00 M634.43 40.40 v14.00 M669.96 751.70 v-7.00 M669.96 40.40 v7.00 M705.50 751.70 v-7.00 M705.50 40.40 v7.00 M741.03 751.70 v-7.00 M741.03 40.40 v7.00 M776.57 751.70 v-7.00 M776.57 40.40 v7.00 M101.40 723.25 h7.00 M812.10 723.25 h-7.00 M101.40 694.80 h7.00 M812.10 694.80 h-7.00 M101.40 666.34 h7.00 M812.10 666.34 h-7.00 M101.40 637.89 h7.00 M812.10 637.89 h-7.00 M101.40 609.44 h14.00 M812.10 609.44 h-14.00 M101.40 580.99 h7.00 M812.10 580.99 h-7.00 M101.40 552.54 h7.00 M812.10 552.54 h-7.00 M101.40 524.08 h7.00 M812.10 524.08 h-7.00 M101.40 495.63 h7.00 M812.10 495.63 h-7.00 M101.40 467.18 h14.00 M812.10 467.18 h-14.00 M101.40 438.73 h7.00 M812.10 438.73 h-7.00 M101.40 410.28 h7.00 M812.10 410.28 h-7.00 M101.40 381.82 h7.00 M812.10 381.82 h-7.00 M101.40 353.37 h7.00 M812.10 353.37 h-7.00 M101.40 324.92 h14.00 M812.10 324.92 h-14.00 M101.40 296.47 h7.00 M812.10 296.47 h-7.00 M101.40 268.02 h7.00 M812.10 268.02 h-7.00 M101.40 239.56 h7.00 M812.10 239.56 h-7.00 M101.40 211.11 h7.00 M812.10 211.11 h-7.00 M101.40 182.66 h14.00 M812.10 182.66 h-14.00 M101.40 154.21 h7.00 M812.10 154.21 h-7.00 M101.40 125.76 h7.00 M812.10 125.76 h-7.00 M101.40 97.30 h7.00 M812.10 97.30 h-7.00 M101.40 68.85 h7.00 M812.10 68.85 h-7.00" stroke-width="2.70"/>
</g>
<g font-family="'Liberation Serif', serif" font-size="37.0" fill="#000">
<text x="105.50" y="784.10" text-anchor="middle">0</text>
<text x="279.48" y="784.10" text-anchor="middle">10</text>
<text x="457.15" y="784.10" text-anchor="middle">20</text>
<text x="634.83" y="784.10" text-anchor="middle">30</text>
<text x="812.50" y="784.10" text-anchor="middle">40</text>
<text x="96.80" y="761.50" text-anchor="end">0</text>
<text x="96.20" y="618.94" text-anchor="end">5</text>
<text x="97.20" y="476.98" text-anchor="end">10</text>
<text x="96.20" y="334.42" text-anchor="end">15</text>
<text x="97.20" y="192.46" text-anchor="end">20</text>
<text x="96.20" y="49.90" text-anchor="end">25</text>
</g>
<g font-family="'Liberation Serif', serif" fill="#000">
<text x="392.8" y="836.3" font-size="37.5" font-style="italic">R</text>
<text x="418.2" y="841.7" font-size="24.8" font-style="italic">D</text>
<text x="446.0" y="836.3" font-size="38.3">(nm)</text>
<g transform="rotate(-90)">
<text x="-442.05" y="35.3" font-size="38" font-style="italic">B</text>
<text x="-419.95" y="41.2" font-size="24.5" font-style="italic">c</text>
<text x="-397.07" y="35.6" font-size="38">(T)</text>
</g>
</g>
</svg>
</body></html>
